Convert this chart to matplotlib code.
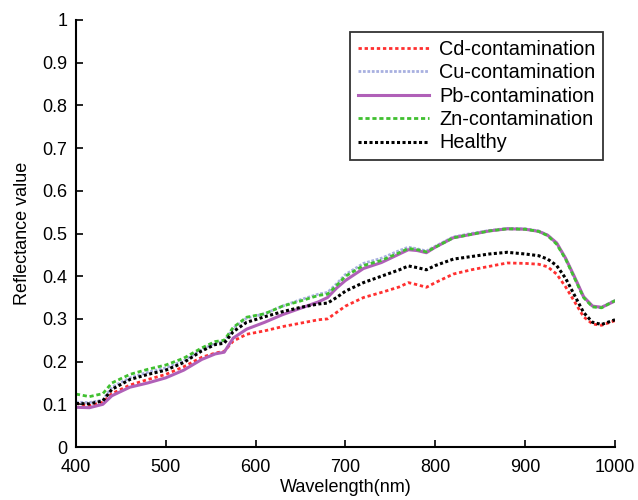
import matplotlib
matplotlib.use("Agg")
import matplotlib.pyplot as plt

wavelength = [400, 415, 430, 440, 460, 480, 500, 520, 540, 555, 565, 575, 590, 610, 630, 650, 670, 680, 690, 700,
              720, 740, 760, 770, 780, 790, 800, 820, 840, 860, 880, 900, 915, 925, 935, 945, 955, 965, 975, 985, 1000]

cd = [.102, .097, .105, .125, .145, .158, .170, .188, .210, .220, .224, .248, .264, .272, .282, .290, .298, .300, .315, .330,
      .350, .362, .375, .385, .380, .374, .385, .405, .415, .423, .431, .430, .428, .422, .405, .375, .340, .305, .288, .285, .296]
cu = [.105, .104, .110, .140, .162, .175, .185, .202, .228, .243, .247, .278, .302, .312, .330, .345, .358, .362, .382, .404,
      .430, .442, .460, .468, .464, .459, .470, .492, .500, .507, .512, .511, .506, .496, .477, .441, .396, .351, .329, .327, .344]
pb = [.093, .092, .100, .120, .140, .150, .162, .180, .205, .218, .222, .255, .276, .292, .310, .325, .340, .350, .372, .390,
      .418, .432, .452, .462, .460, .455, .468, .490, .498, .506, .511, .510, .505, .496, .478, .442, .398, .352, .330, .327, .342]
zn = [.124, .118, .125, .150, .170, .182, .192, .208, .232, .247, .250, .280, .304, .312, .330, .342, .355, .358, .378, .400,
      .425, .437, .455, .465, .462, .457, .468, .490, .498, .506, .511, .510, .505, .495, .475, .440, .395, .350, .328, .326, .343]
healthy = [.102, .101, .108, .135, .158, .170, .180, .198, .225, .240, .243, .270, .292, .305, .317, .327, .335, .337, .350, .365,
           .385, .400, .415, .424, .420, .415, .425, .440, .446, .452, .456, .452, .448, .440, .425, .395, .355, .315, .292, .287, .298]

labels = ["Cd-contamination", "Cu-contamination", "Pb-contamination", "Zn-contamination", "Healthy"]
x_ticks = [400, 500, 600, 700, 800, 900, 1000]
y_ticks = [0, 0.1, 0.2, 0.3, 0.4, 0.5, 0.6, 0.7, 0.8, 0.9, 1]
y_tick_labels = ["0", "0.1", "0.2", "0.3", "0.4", "0.5", "0.6", "0.7", "0.8", "0.9", "1"]

plt.rcParams['font.family'] = ['Liberation Sans', 'DejaVu Sans']

fig = plt.figure(figsize=(6.38, 5.0), dpi=100)
ax = fig.add_axes([0.119, 0.106, 0.845, 0.854])

ax.plot(wavelength, cd, color='#ff3030', linestyle=(0, (1.2, 1.0)), linewidth=2.0, label=labels[0])
ax.plot(wavelength, cu, color='#a8b0e0', linestyle=(0, (1.0, 0.6)), linewidth=2.0, label=labels[1])
ax.plot(wavelength, pb, color='#b060b8', linestyle='-', linewidth=2.2, label=labels[2])
ax.plot(wavelength, zn, color='#40c030', linestyle=(0, (1.5, 1.0)), linewidth=2.0, label=labels[3])
ax.plot(wavelength, healthy, color='#000000', linestyle=(0, (1.0, 0.8)), linewidth=2.2, label=labels[4])

ax.set_xlim(400, 1000)
ax.set_ylim(0, 1)
ax.set_xticks(x_ticks)
ax.set_yticks(y_ticks)
ax.set_yticklabels(y_tick_labels)
ax.tick_params(direction='in', labelsize=13, width=1.2, length=5)
ax.tick_params(axis='x', pad=9)
ax.tick_params(axis='y', pad=6)
for s in ['top', 'right']:
    ax.spines[s].set_visible(False)
for s in ['left', 'bottom']:
    ax.spines[s].set_linewidth(1.5)

ax.set_xlabel("Wavelength(nm)", fontsize=13, labelpad=1.5)
ax.set_ylabel("Reflectance value", fontsize=13, labelpad=8)

leg = ax.legend(loc='upper right', fontsize=14.3, frameon=True, fancybox=False, edgecolor='black',
                handlelength=3.6, labelspacing=0.22, borderpad=0.4, handletextpad=0.5,
                bbox_to_anchor=(0.997, 0.995))
leg.get_frame().set_linewidth(1.3)

fig.savefig("out.png", dpi=100)
